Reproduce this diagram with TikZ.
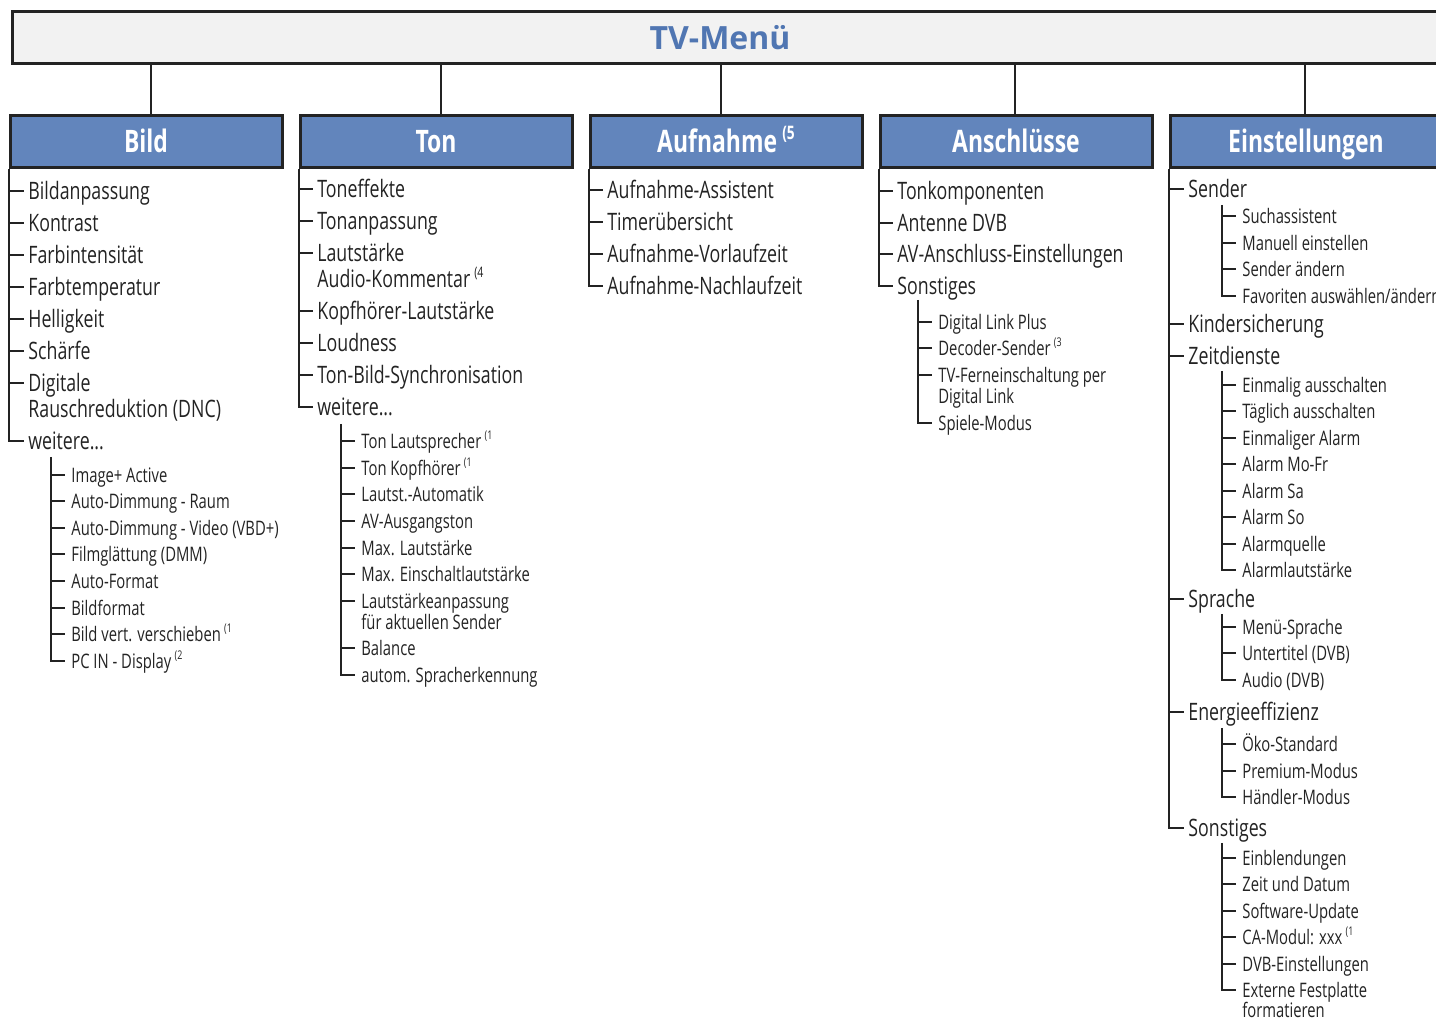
\documentclass[tikz,border=0pt]{standalone}
\usepackage{fontspec}
\setmainfont{Open Sans}[FakeStretch=0.74]
\newfontfamily\titlefont{Open Sans}
\usetikzlibrary{positioning}

\definecolor{menublue}{RGB}{80,118,178}
\definecolor{headblue}{RGB}{98,133,188}
\definecolor{ink}{RGB}{35,35,35}

\newcommand{\fnote}[1]{\,\raisebox{0.45em}{\scalebox{0.6}{(#1}}}

\tikzset{
  menubox/.style={draw=ink, line width=1.5pt, fill=gray!10, minimum width=724pt, minimum height=26pt},
  headbox/.style={draw=ink, line width=1.5pt, fill=headblue, text=white, minimum width=136pt, minimum height=26pt,
    font=\bfseries\fontsize{15.5}{15.5}\selectfont, text height=11pt, text depth=0pt},
  mainentry/.style={anchor=west, inner xsep=2pt, inner ysep=0pt, text=ink,
    font=\fontsize{12}{12}\selectfont, text height=12pt, text depth=3pt},
  subentry/.style={mainentry, inner xsep=3pt, font=\fontsize{10}{10}\selectfont, text height=10pt, text depth=2.5pt},
  link/.style={draw=ink, line width=1pt},
  sublink/.style={draw=ink, line width=0.75pt}
}

\begin{document}
\begin{tikzpicture}[x=0.5pt, y=-0.5pt]
\useasboundingbox (0,0) rectangle (1436,1020);

% top menu
\node[menubox] (menu) at (736,38) {};
\node[font=\titlefont\bfseries\fontsize{16}{16}\selectfont, text=menublue] (title) at (720,38) {TV-Menü};

% column heads
\node[headbox] (bild) at (146,142) {Bild};
\node[headbox] (ton) at (436,142) {Ton};
\node[headbox] (aufn) at (726,142) {Aufnahme\fnote{5}};
\node[headbox] (ansch) at (1016,142) {Anschlüsse};
\node[headbox] (einst) at (1306,142) {Einstellungen};

\foreach \n/\dx in {bild/2.5, ton/2.5, aufn/-2.5, ansch/-0.5, einst/-0.5}
	\draw[link] ([xshift=\dx pt]\n.north) -- ([xshift=\dx pt]\n.north |- menu.south);

% Bild
\foreach \y/\t [count=\i] in {191/Bildanpassung, 223/Kontrast, 255/Farbintensität, 287/Farbtemperatur, 319/Helligkeit, 351/Schärfe, 383/Digitale}
	\node[mainentry] (b\i) at (24,\y) {\t};
\node[mainentry] (b7x) at (24,409) {Rauschreduktion (DNC)};
\node[mainentry] (b8) at (24,441) {weitere...};

\coordinate (bw) at (51,457);
\foreach \y/\t [count=\i] in {475/Image+ Active, 501/Auto-Dimmung - Raum, 528/Auto-Dimmung - Video (VBD+), 554/Filmglättung (DMM), 581/Auto-Format, 608/Bildformat, 634/{Bild vert. verschieben\fnote{1}}, 661/{PC IN - Display\fnote{2}}}
	\node[subentry] (bs\i) at (65,\y) {\t};

% Ton
\foreach \y/\t [count=\i] in {189/Toneffekte, 221/Tonanpassung, 253/Lautstärke, 311/Kopfhörer-Lautstärke, 343/Loudness, 375/Ton-Bild-Synchronisation}
	\node[mainentry] (t\i) at (313,\y) {\t};
\node[mainentry] (t3x) at (313,279) {Audio-Kommentar\fnote{4}};
\node[mainentry] (t7) at (313,407) {weitere...};

\coordinate (tw) at (341,424);
\foreach \y/\t [count=\i] in {441/{Ton Lautsprecher\fnote{1}}, 468/{Ton Kopfhörer\fnote{1}}, 494/Lautst.-Automatik, 521/AV-Ausgangston, 548/Max. Lautstärke, 574/Max. Einschaltlautstärke, 601/Lautstärkeanpassung, 648/Balance, 675/autom. Spracherkennung}
	\node[subentry] (ts\i) at (355,\y) {\t};
\node[subentry] (ts7x) at (355,622) {für aktuellen Sender};

% Aufnahme
\foreach \y/\t [count=\i] in {190/Aufnahme-Assistent, 222/Timerübersicht, 254/Aufnahme-Vorlaufzeit, 286/Aufnahme-Nachlaufzeit}
	\node[mainentry] (a\i) at (603,\y) {\t};

% Anschluesse
\foreach \y/\t [count=\i] in {191/Tonkomponenten, 223/Antenne DVB, 254/AV-Anschluss-Einstellungen, 286/Sonstiges}
	\node[mainentry] (n\i) at (893,\y) {\t};

\coordinate (nw) at (918,300);
\foreach \y/\t [count=\i] in {322/Digital Link Plus, 348/{Decoder-Sender\fnote{3}}, 375/TV-Ferneinschaltung per, 423/Spiele-Modus}
	\node[subentry] (ns\i) at (932,\y) {\t};
\node[subentry] (ns3x) at (932,396) {Digital Link};

% Einstellungen
\foreach \y/\t [count=\i] in {189/Sender, 324/Kindersicherung, 356/Zeitdienste, 599/Sprache, 712/Energieeffizienz, 828/Sonstiges}
	\node[mainentry] (e\i) at (1184,\y) {\t};

\coordinate (esaw) at (1222,205);
\foreach \y/\t [count=\i] in {216/Suchassistent, 243/Manuell einstellen, 269/Sender ändern, 296/{Favoriten auswählen/ändern}}
	\node[subentry] (esa\i) at (1236,\y) {\t};

\coordinate (esbw) at (1222,371);
\foreach \y/\t [count=\i] in {385/Einmalig ausschalten, 411/Täglich ausschalten, 438/Einmaliger Alarm, 464/Alarm Mo-Fr, 491/Alarm Sa, 517/Alarm So, 544/Alarmquelle, 570/Alarmlautstärke}
	\node[subentry] (esb\i) at (1236,\y) {\t};

\coordinate (escw) at (1222,614);
\foreach \y/\t [count=\i] in {627/Menü-Sprache, 653/Untertitel (DVB), 680/Audio (DVB)}
	\node[subentry] (esc\i) at (1236,\y) {\t};

\coordinate (esdw) at (1222,728);
\foreach \y/\t [count=\i] in {744/Öko-Standard, 771/Premium-Modus, 797/Händler-Modus}
	\node[subentry] (esd\i) at (1236,\y) {\t};

\coordinate (esew) at (1222,843);
\foreach \y/\t [count=\i] in {858/Einblendungen, 884/Zeit und Datum, 911/Software-Update, 937/{CA-Modul: xxx\fnote{1}}, 964/DVB-Einstellungen, 990/Externe Festplatte}
	\node[subentry] (ese\i) at (1236,\y) {\t};
\node[subentry] (ese6x) at (1236,1010) {formatieren};

% tree lines
\foreach \s/\p/\n in {bild/b/8, ton/t/7, aufn/a/4, ansch/n/4, einst/e/6} {
	\pgfmathtruncatemacro{\m}{\n-1}
	\draw[link] (\s.south west) |- (\p\n.west);
	\foreach \i in {1,...,\m}
		\draw[link] (\s.south west |- \p\i.west) -- (\p\i.west);
}

\foreach \s/\p/\n in {bw/bs/8, tw/ts/9, nw/ns/4, esaw/esa/4, esbw/esb/8, escw/esc/3, esdw/esd/3, esew/ese/6} {
	\pgfmathtruncatemacro{\m}{\n-1}
	\draw[sublink] (\s) |- (\p\n.west);
	\foreach \i in {1,...,\m}
		\draw[sublink] (\s |- \p\i.west) -- (\p\i.west);
}

\end{tikzpicture}
\end{document}
